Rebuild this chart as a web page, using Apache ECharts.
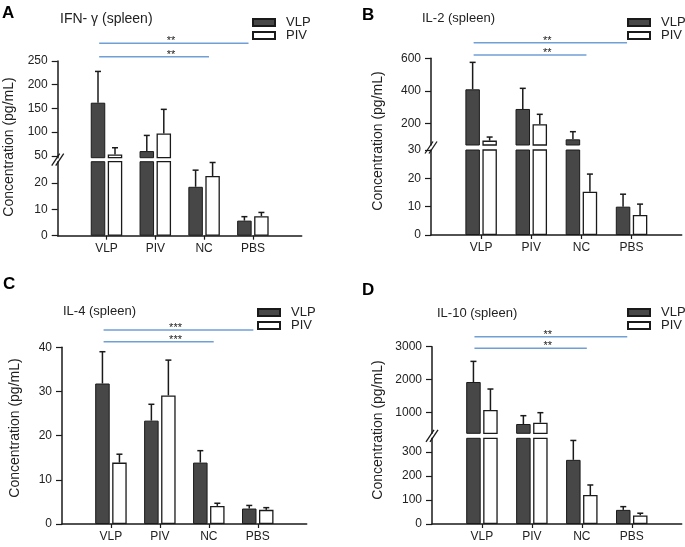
<!DOCTYPE html>
<html>
<head>
<meta charset="utf-8">
<script src="https://cdn.jsdelivr.net/npm/echarts@6/dist/echarts.min.js"></script>
<style>
  html, body { margin: 0; padding: 0; background: #fff; }
  #chart { width: 685px; height: 547px; }
</style>
</head>
<body>
<div id="chart"></div>
<script>
const categories = ['VLP', 'PIV', 'NC', 'PBS'];
const sigPairs = [['VLP', 'NC'], ['VLP', 'PBS']]; // lower line, upper line

// IFN-γ (spleen)
const ifnVlp = [162, 60, 18.5, 5.7];
const ifnVlpSd = [66, 33, 6.3, 1.5];
const ifnPiv = [53, 97, 22.6, 7.4];
const ifnPivSd = [14, 51, 5.1, 1.4];
const ifnUpperTicks = [50, 100, 150, 200, 250];
const ifnLowerTicks = [0, 10, 20];
const ifnStars = ['**', '**'];

// IL-2 (spleen)
const il2Vlp = [409, 288, 101, 10];
const il2VlpSd = [166, 127, 47, 4.4];
const il2Piv = [93, 194, 15.3, 7.1];
const il2PivSd = [22, 61, 6.2, 3.8];
const il2UpperTicks = [200, 400, 600];
const il2LowerTicks = [0, 10, 20, 30];
const il2Stars = ['**', '**'];

// IL-4 (spleen)
const il4Vlp = [31.8, 23.4, 13.9, 3.5];
const il4VlpSd = [7.2, 3.7, 2.7, 0.7];
const il4Piv = [13.9, 29.1, 4.1, 3.2];
const il4PivSd = [1.9, 8.0, 0.6, 0.5];
const il4Ticks = [0, 10, 20, 30, 40];
const il4Stars = ['***', '***'];

// IL-10 (spleen)
const il10Vlp = [1930, 657, 268, 59];
const il10VlpSd = [625, 252, 81, 13.5];
const il10Piv = [1080, 697, 121, 36];
const il10PivSd = [637, 303, 42, 9];
const il10UpperTicks = [1000, 2000, 3000];
const il10LowerTicks = [0, 100, 200, 300];
const il10Stars = ['**', '**'];

const FONT = '"Liberation Sans", Arial, sans-serif';
const INK = '#1a1a1a';
const DARK = '#474747';
const BLUE = '#6f9fd6';
const BAR_W = 14.5;
const BAR_GAP = 2.5;

// layout of each panel (pixels)
const panels = [
  {
    letter: 'A', title: 'IFN- γ (spleen)', vlp: ifnVlp, vlpSd: ifnVlpSd, piv: ifnPiv, pivSd: ifnPivSd, stars: ifnStars,
    x0: 57.7, x1: 301.7,
    segs: [
      { min: 46, max: 250, ticks: ifnUpperTicks, top: 61, bottom: 157.7 },
      { min: 0, max: 28, ticks: ifnLowerTicks, top: 161.7, bottom: 235.7 }
    ],
    sigY: [-4.3, -17.7], letterPos: [2, 5], titlePos: [60, 12], titleSize: 14, legendPos: [252, 16], namePos: [9, 147]
  },
  {
    letter: 'B', title: 'IL-2 (spleen)', vlp: il2Vlp, vlpSd: il2VlpSd, piv: il2Piv, pivSd: il2PivSd, stars: il2Stars,
    x0: 431, x1: 681.7,
    segs: [
      { min: 66, max: 600, ticks: il2UpperTicks, top: 58.3, bottom: 145 },
      { min: 0, max: 30, ticks: il2LowerTicks, top: 150, bottom: 235 }
    ],
    sigY: [-3.3, -15.6], letterPos: [362, 7], titlePos: [422, 12], titleSize: 13, legendPos: [627, 16], namePos: [378, 141]
  },
  {
    letter: 'C', title: 'IL-4 (spleen)', vlp: il4Vlp, vlpSd: il4VlpSd, piv: il4Piv, pivSd: il4PivSd, stars: il4Stars,
    x0: 62, x1: 306.7,
    segs: [
      { min: 0, max: 40, ticks: il4Ticks, top: 347.3, bottom: 524 }
    ],
    sigY: [-5.6, -17.3], letterPos: [3, 276], titlePos: [63, 305], titleSize: 13, legendPos: [257, 306], namePos: [15, 428]
  },
  {
    letter: 'D', title: 'IL-10 (spleen)', vlp: il10Vlp, vlpSd: il10VlpSd, piv: il10Piv, pivSd: il10PivSd, stars: il10Stars,
    x0: 432, x1: 681.7,
    segs: [
      { min: 375, max: 3000, ticks: il10UpperTicks, top: 346.7, bottom: 433.3 },
      { min: 0, max: 358, ticks: il10LowerTicks, top: 438.3, bottom: 524 }
    ],
    sigY: [1.6, -10], letterPos: [362, 282], titlePos: [437, 307], titleSize: 13, legendPos: [627, 306], namePos: [378, 430]
  }
];

function renderErr(params, api) {
  const idx = api.value(0);
  const mean = api.value(1);
  const top = api.value(2);
  const side = api.value(3);
  const p0 = api.coord([idx, mean]);
  const p1 = api.coord([idx, top]);
  const x = p0[0] + side * (BAR_W + BAR_GAP) / 2;
  return {
    type: 'group',
    children: [
      { type: 'line', shape: { x1: x, y1: p0[1], x2: x, y2: p1[1] }, style: { stroke: INK, lineWidth: 1.5 } },
      { type: 'line', shape: { x1: x - 3, y1: p1[1], x2: x + 3, y2: p1[1] }, style: { stroke: INK, lineWidth: 1.5 } }
    ]
  };
}

function makeSig(p) {
  return function (params, api) {
    const from = api.value(0);
    const to = api.value(1);
    const lvl = api.value(2);
    const band = api.size([1, 0])[0];
    const xFrom = api.coord([from, 0])[0];
    const xTo = api.coord([to, 0])[0];
    const xa = xFrom - 0.15 * band;
    const xb = xTo + (to === 3 ? 0.1 : -0.09) * band;
    const xPbs = api.coord([4, 0])[0];
    const y = params.coordSys.y + p.sigY[lvl];
    return {
      type: 'group',
      children: [
        { type: 'line', shape: { x1: xa, y1: y, x2: xb, y2: y }, style: { stroke: BLUE, lineWidth: 1.5 } },
        {
          type: 'text', x: xFrom + (xPbs - xFrom) * 0.44, y: y - 2,
          style: { text: p.stars[lvl], fill: INK, font: '11px ' + FONT, textAlign: 'center', textVerticalAlign: 'middle' }
        }
      ]
    };
  };
}

const grid = [], xAxis = [], yAxis = [], series = [], title = [], legend = [], graphic = [];

panels.forEach(function (p) {
  title.push({ text: p.letter, left: p.letterPos[0], top: p.letterPos[1], padding: 0,
    textStyle: { fontFamily: 'Arial, "Liberation Sans", sans-serif', fontSize: 17, fontWeight: 'bold', color: '#000' } });
  title.push({ text: p.title, left: p.titlePos[0], top: p.titlePos[1], padding: 0,
    textStyle: { fontFamily: FONT, fontSize: p.titleSize, fontWeight: 'normal', color: '#222' } });
  legend.push({
    data: ['VLP', 'PIV'], orient: 'vertical', left: p.legendPos[0], top: p.legendPos[1], padding: 0,
    itemWidth: 22, itemHeight: 7, itemGap: 0, icon: 'rect', selectedMode: false,
    textStyle: { fontFamily: FONT, fontSize: 13, color: '#222', padding: [0, 0, 0, 6] }
  });
  graphic.push({
    type: 'text', x: p.namePos[0], y: p.namePos[1], rotation: Math.PI / 2,
    style: { text: 'Concentration (pg/mL)', font: '14px ' + FONT, fill: '#222', textAlign: 'center', textVerticalAlign: 'middle' }
  });

  const broken = p.segs.length > 1;
  p.segs.forEach(function (s, j) {
    const g = grid.length;
    const isBottom = j === p.segs.length - 1;
    grid.push({ left: p.x0, top: s.top, width: p.x1 - p.x0, height: s.bottom - s.top, outerBoundsMode: 'none' });
    xAxis.push({
      type: 'category', gridIndex: g, data: [''].concat(categories, ['']), boundaryGap: false, show: isBottom,
      axisLine: { lineStyle: { color: INK, width: 1.5 } },
      axisTick: { length: 4, interval: function (i) { return i > 0 && i < 5; }, lineStyle: { color: INK, width: 1.2 } },
      axisLabel: { interval: 0, fontFamily: FONT, fontSize: 12, color: '#222', margin: 7 }
    });
    yAxis.push({
      type: 'value', gridIndex: g, min: s.min, max: s.max,
      axisLine: { show: true, lineStyle: { color: INK, width: 1.5 } },
      axisTick: { show: true, length: 6, lineStyle: { color: INK, width: 1.2 }, customValues: s.ticks },
      axisLabel: {
        fontFamily: FONT, fontSize: 12, color: '#222', margin: 10, customValues: s.ticks,
        formatter: function (v) { return String(v); }
      },
      splitLine: { show: false }
    });

    series.push({
      type: 'bar', name: 'VLP', xAxisIndex: g, yAxisIndex: g, clip: true, silent: true,
      barWidth: BAR_W, barGap: (BAR_GAP / BAR_W * 100) + '%',
      data: p.vlp.map(function (v, i) { return [i + 1, v]; }),
      itemStyle: { color: DARK, borderColor: INK, borderWidth: 1 }
    });
    series.push({
      type: 'bar', name: 'PIV', xAxisIndex: g, yAxisIndex: g, clip: true, silent: true,
      barWidth: BAR_W, barGap: (BAR_GAP / BAR_W * 100) + '%',
      data: p.piv.map(function (v, i) { return [i + 1, v]; }),
      itemStyle: { color: '#fff', borderColor: INK, borderWidth: 1.3 }
    });

    // error bars: upper segment holds the means above the break
    const errs = [];
    [[p.vlp, p.vlpSd, -1], [p.piv, p.pivSd, 1]].forEach(function (set) {
      set[0].forEach(function (v, i) {
        const inUpper = broken && v > p.segs[1].max;
        if (!broken || (j === 0 && inUpper) || (j === 1 && !inUpper)) {
          errs.push([i + 1, v, v + set[1][i], set[2]]);
        }
      });
    });
    series.push({
      type: 'custom', xAxisIndex: g, yAxisIndex: g, silent: true, clip: false,
      encode: { x: 0, y: [1, 2] }, data: errs, renderItem: renderErr
    });

    if (j === 0) {
      series.push({
        type: 'custom', xAxisIndex: g, yAxisIndex: g, silent: true, clip: false,
        encode: { x: [0, 1] },
        data: sigPairs.map(function (pr, k) {
          return [categories.indexOf(pr[0]) + 1, categories.indexOf(pr[1]) + 1, k];
        }),
        renderItem: makeSig(p)
      });
    }
  });

  if (broken) {
    const cy = (p.segs[0].bottom + p.segs[1].top) / 2;
    [-2, 2].forEach(function (dx) {
      graphic.push({
        type: 'line', shape: { x1: p.x0 + dx - 4, y1: cy + 6, x2: p.x0 + dx + 4, y2: cy - 6 },
        style: { stroke: INK, lineWidth: 1.3 }
      });
    });
  }
});

const chart = echarts.init(document.getElementById('chart'));
chart.setOption({
  backgroundColor: '#fff',
  animation: false,
  title: title,
  legend: legend,
  grid: grid,
  xAxis: xAxis,
  yAxis: yAxis,
  graphic: graphic,
  series: series
});
</script>
</body>
</html>
